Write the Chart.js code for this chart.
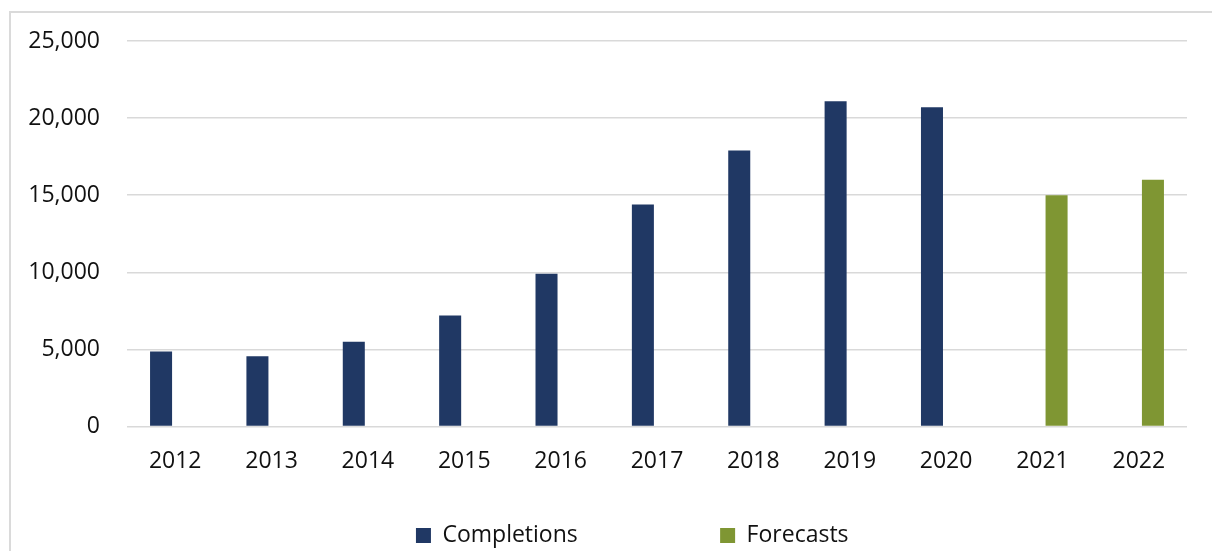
<!DOCTYPE html>
<html>
<head>
<meta charset="utf-8">
<script src="https://cdn.jsdelivr.net/npm/chart.js@4"></script>
<style>
  html, body { margin: 0; padding: 0; background: #fff; overflow: hidden; }
  #frame {
    position: absolute; left: 9px; top: 11px;
    width: 1210px; height: 560px;
    border-left: 2px solid #dadada; border-top: 2px solid #dadada;
  }
  #chart { position: absolute; left: 0; top: 0; }
</style>
</head>
<body>
<div id="frame"><canvas id="chart" width="1201" height="544"></canvas></div>
<script>
// Daten
const years = ['2012', '2013', '2014', '2015', '2016', '2017', '2018', '2019', '2020', '2021', '2022'];
const completions = [4870, 4550, 5500, 7200, 9900, 14400, 17900, 21100, 20700, null, null];
const forecasts = [null, null, null, null, null, null, null, null, null, 15000, 16000];
const yTicks = [0, 5000, 10000, 15000, 20000, 25000];

const navy = '#203864';
const green = '#7f9633';
const textColor = '#111111';
const font = { family: "'Open Sans', sans-serif", size: 23 };

// Legend: leere Platzhalter sorgen fuer den Abstand wie im Original
function legendLabels(chart) {
  const blank = (txt) => ({ text: txt, fillStyle: 'rgba(0,0,0,0)', strokeStyle: 'rgba(0,0,0,0)', lineWidth: 0, hidden: false });
  const items = chart.data.datasets.map((ds, i) => ({
    text: ds.label,
    fillStyle: ds.backgroundColor,
    strokeStyle: ds.backgroundColor,
    lineWidth: 0,
    hidden: false,
    fontColor: textColor,
    datasetIndex: i
  }));
  return [blank(''), items[0], blank('      '), items[1]];
}

new Chart(document.getElementById('chart').getContext('2d'), {
  type: 'bar',
  data: {
    labels: years,
    datasets: [
      { label: 'Completions', data: completions, backgroundColor: navy },
      { label: 'Forecasts', data: forecasts, backgroundColor: green }
    ]
  },
  options: {
    responsive: false,
    animation: false,
    layout: { padding: { top: 28, right: 25, bottom: 0, left: 0 } },
    datasets: {
      bar: { categoryPercentage: 0.586, barPercentage: 0.78 }
    },
    scales: {
      x: {
        grid: { display: false },
        border: { display: false },
        ticks: { color: textColor, font: font, padding: 13, maxRotation: 0 },
        afterFit: (s) => { s.height = 57.5; }
      },
      y: {
        min: 0,
        max: 25000,
        afterBuildTicks: (s) => { s.ticks = yTicks.map(v => ({ value: v })); },
        grid: { color: '#d9d9d9', lineWidth: 1.5, drawTicks: false },
        border: { display: false },
        ticks: {
          color: textColor,
          font: font,
          padding: 27,
          callback: (v) => Number(v).toLocaleString('en-US')
        },
        afterFit: (s) => {
          s.width = 116;
          s.paddingTop = 0;
          s.paddingBottom = 0;
        }
      }
    },
    plugins: {
      legend: {
        position: 'bottom',
        labels: {
          boxWidth: 15,
          boxHeight: 15,
          padding: 40,
          color: textColor,
          font: font,
          generateLabels: legendLabels
        }
      },
      tooltip: { enabled: false }
    }
  }
});
</script>
</body>
</html>
